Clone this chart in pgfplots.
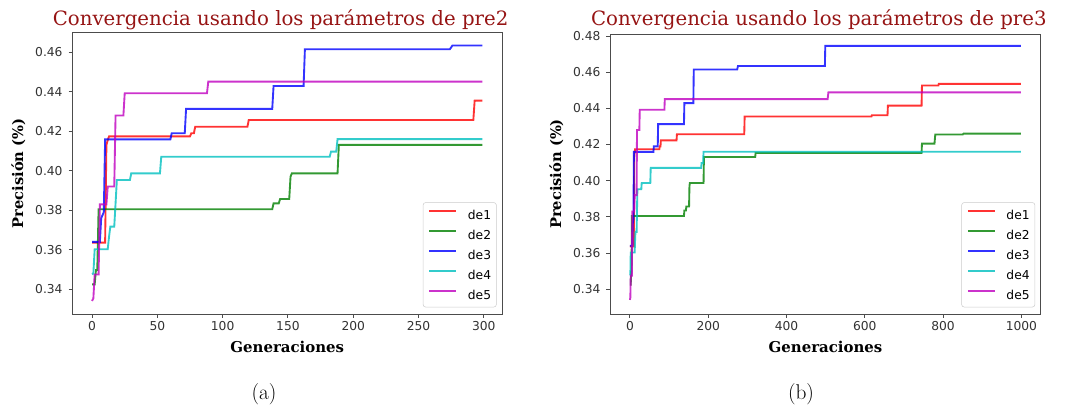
\documentclass[border=0pt]{standalone}
\usepackage{fontspec}
\usepackage{pgfplots}
\pgfplotsset{compat=1.18}
\newfontfamily\dvserif{DejaVu Serif}
\newfontfamily\dvsans{DejaVu Sans}
\definecolor{ttl}{RGB}{150,20,20}
\definecolor{cR}{rgb}{1,0,0}
\definecolor{cG}{rgb}{0,0.5,0}
\definecolor{cB}{rgb}{0,0,1}
\definecolor{cC}{rgb}{0,0.75,0.75}
\definecolor{cM}{rgb}{0.75,0,0.75}
\pgfplotsset{
  convstyle/.style={
    scale only axis,
    anchor=south west,
    axis line style={black!70, line width=0.7pt},
    every tick/.style={black!70, line width=0.7pt},
    major tick length=3pt,
    tick align=outside,
    tick pos=left,
    /pgf/number format/assume math mode=true,
    tick label style={font=\dvsans\fontsize{9.2}{11}\selectfont, text=black!80, inner sep=0pt},
    yticklabel={\pgfmathprintnumber[fixed,fixed zerofill,precision=2]{\tick}},
    xticklabel={\pgfmathprintnumber[fixed,precision=0,1000 sep={}]{\tick}},
    yticklabel style={xshift=-4.3pt},
    xticklabel style={yshift=-2.2pt},
    every axis title shift=0pt,
    title style={font=\dvserif\fontsize{14.8}{18}\selectfont, text=ttl, anchor=base, xshift=-5pt},
    xlabel style={font=\dvserif\bfseries\fontsize{11.2}{13}\selectfont, anchor=base},
    ylabel style={font=\dvserif\bfseries\fontsize{11}{13}\selectfont, anchor=base, rotate=0},
    xlabel={Generaciones},
    ylabel={Precisión (\%)},
    every axis plot/.append style={line width=1.4pt, opacity=0.8},
    legend cell align=left,
    legend image code/.code={\draw[#1] (0pt,3.2pt) -- (20pt,3.2pt);},
    legend style={at={(axis description cs:1,0)}, anchor=south east, xshift=-4pt, yshift=5pt,
      draw=black!20, fill=white, fill opacity=0.8, text opacity=1, rounded corners=2pt,
      font=\dvsans\fontsize{9.2}{11}\selectfont,
      inner xsep=4pt, inner ysep=5.4pt, row sep=7.9pt, column sep=8.25pt,
      nodes={inner sep=0pt, text height=6.6pt, text depth=0pt}},
  }
}
\begin{document}
\begin{tikzpicture}
\useasboundingbox (0,0) rectangle (799.5pt,306.75pt);
% ---------------- (a) pre2 ----------------
\begin{axis}[convstyle,
  at={(54.4pt,71.25pt)}, width=322.1pt, height=211pt,
  xmin=-14.95, xmax=313.95, ymin=0.3275, ymax=0.4699,
  xtick={0,50,100,150,200,250,300},
  ytick={0.34,0.36,0.38,0.40,0.42,0.44,0.46},
  title={Convergencia usando los parámetros de pre2},
  title style={at={(axis description cs:0.5,1.0237)}},
  xlabel style={at={(axis description cs:0.5,-0.1386)}},
  ylabel style={at={(axis description cs:-0.1149,0.5)}},
]
\addplot[cR] coordinates {(0,0.3636)(10,0.3636)(11,0.4130)(12,0.4155)(13,0.4174)(75,0.4174)(76,0.4190)(78,0.4190)(79,0.4223)(119,0.4223)(120,0.4257)(292,0.4257)(293,0.4355)(299,0.4355)};
\addlegendentry{de1}
\addplot[cG] coordinates {(0,0.3425)(2,0.3425)(3,0.3498)(4,0.3498)(5,0.3805)(138,0.3805)(139,0.3835)(143,0.3835)(144,0.3857)(151,0.3857)(152,0.3970)(153,0.3987)(188,0.3987)(189,0.4131)(299,0.4131)};
\addlegendentry{de2}
\addplot[cB] coordinates {(0,0.3640)(6,0.3640)(7,0.3760)(9,0.3790)(10,0.4159)(60,0.4159)(61,0.4190)(71,0.4190)(72,0.4313)(138,0.4313)(139,0.4429)(162,0.4429)(163,0.4615)(274,0.4615)(276,0.4634)(299,0.4634)};
\addlegendentry{de3}
\addplot[cC] coordinates {(0,0.3476)(1,0.3480)(2,0.3603)(12,0.3603)(13,0.3666)(14,0.3717)(17,0.3717)(19,0.3953)(29,0.3953)(30,0.3987)(52,0.3987)(53,0.4071)(182,0.4071)(183,0.4097)(187,0.4097)(188,0.4160)(299,0.4160)};
\addlegendentry{de4}
\addplot[cM] coordinates {(0,0.3341)(1,0.3354)(2,0.3475)(5,0.3475)(6,0.3830)(11,0.3830)(12,0.3920)(17,0.3920)(18,0.4280)(24,0.4280)(25,0.4392)(88,0.4392)(89,0.4451)(299,0.4451)};
\addlegendentry{de5}
\end{axis}
% ---------------- (b) pre3 ----------------
\begin{axis}[convstyle,
  at={(457.8pt,71.25pt)}, width=322.6pt, height=210pt,
  xmin=-49.95, xmax=1048.95, ymin=0.3263, ymax=0.4811,
  xtick={0,200,400,600,800,1000},
  ytick={0.34,0.36,0.38,0.40,0.42,0.44,0.46,0.48},
  title={Convergencia usando los parámetros de pre3},
  title style={at={(axis description cs:0.5,1.0286)}},
  xlabel style={at={(axis description cs:0.5,-0.1393)}},
  ylabel style={at={(axis description cs:-0.1147,0.5)}},
]
\addplot[cR] coordinates {(0,0.3636)(10,0.3636)(11,0.4130)(12,0.4155)(13,0.4174)(75,0.4174)(76,0.4190)(78,0.4190)(79,0.4223)(119,0.4223)(120,0.4257)(292,0.4257)(293,0.4355)(617,0.4355)(618,0.4362)(658,0.4362)(659,0.4415)(745,0.4415)(746,0.4526)(788,0.4526)(789,0.4535)(999,0.4535)};
\addlegendentry{de1}
\addplot[cG] coordinates {(0,0.3425)(2,0.3425)(3,0.3498)(4,0.3498)(5,0.3805)(138,0.3805)(139,0.3835)(143,0.3835)(144,0.3857)(151,0.3857)(152,0.3970)(153,0.3987)(188,0.3987)(189,0.4131)(320,0.4131)(321,0.4153)(745,0.4153)(746,0.4205)(778,0.4205)(780,0.4255)(850,0.4255)(852,0.4260)(999,0.4260)};
\addlegendentry{de2}
\addplot[cB] coordinates {(0,0.3640)(6,0.3640)(7,0.3760)(9,0.3790)(10,0.4159)(60,0.4159)(61,0.4190)(71,0.4190)(72,0.4313)(138,0.4313)(139,0.4429)(162,0.4429)(163,0.4615)(274,0.4615)(276,0.4634)(498,0.4634)(499,0.4745)(999,0.4745)};
\addlegendentry{de3}
\addplot[cC] coordinates {(0,0.3476)(1,0.3480)(2,0.3603)(12,0.3603)(13,0.3666)(14,0.3717)(17,0.3717)(19,0.3953)(29,0.3953)(30,0.3987)(52,0.3987)(53,0.4071)(182,0.4071)(183,0.4097)(187,0.4097)(188,0.4160)(999,0.4160)};
\addlegendentry{de4}
\addplot[cM] coordinates {(0,0.3341)(1,0.3354)(2,0.3475)(5,0.3475)(6,0.3830)(11,0.3830)(12,0.3920)(17,0.3920)(18,0.4280)(24,0.4280)(25,0.4392)(88,0.4392)(89,0.4451)(505,0.4451)(507,0.4488)(999,0.4488)};
\addlegendentry{de5}
\end{axis}
\node[font=\fontsize{16}{19}\selectfont, anchor=base] at (198pt,6.75pt) {(a)};
\node[font=\fontsize{16}{19}\selectfont, anchor=base] at (600.75pt,6.75pt) {(b)};
\end{tikzpicture}
\end{document}
